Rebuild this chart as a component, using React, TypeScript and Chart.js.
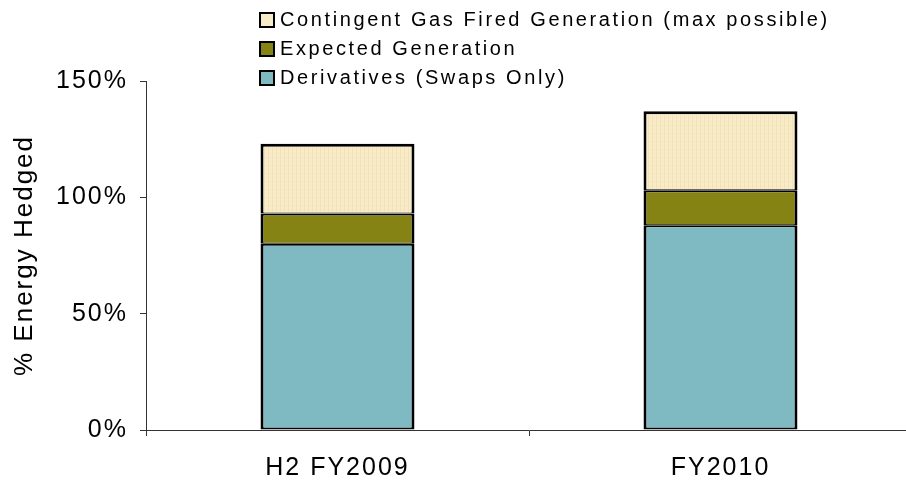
import React, { useEffect, useRef } from "react";
import { Chart, registerables } from "chart.js";

Chart.register(...registerables);

const categories = ["H2 FY2009", "FY2010"];
const derivatives = [80, 88];
const expectedGen = [13, 15];
const contingentGas = [30, 34];
const yTicks = [0, 50, 100, 150];

const seriesNames = [
  "Contingent Gas Fired Generation (max possible)",
  "Expected Generation",
  "Derivatives (Swaps Only)",
];
const colors = {
  deriv: "#7FBAC3",
  expected: "#868315",
  contingent: "#F8ECC8",
  contingentStripe: "#F2E2B8",
};

const FONT = "'Liberation Sans', Arial, sans-serif";
const CANVAS_SPACING = "2px";
const LEGEND_SPACING = "2.6px";

function makePattern(ctx: CanvasRenderingContext2D) {
  const c = document.createElement("canvas");
  c.width = 4;
  c.height = 4;
  const p = c.getContext("2d")!;
  p.fillStyle = colors.contingent;
  p.fillRect(0, 0, 4, 4);
  p.fillStyle = colors.contingentStripe;
  p.fillRect(0, 0, 1, 4);
  p.fillRect(2, 1, 1, 1);
  return ctx.createPattern(c, "repeat") || colors.contingent;
}

export default function App() {
  const ref = useRef<HTMLCanvasElement | null>(null);

  useEffect(() => {
    const canvas = ref.current!;
    const ctx0 = canvas.getContext("2d")!;
    const pattern = makePattern(ctx0);
    const spacingPlugin = {
      id: "spacing",
      beforeUpdate(chart: any) {
        chart.ctx.letterSpacing = CANVAS_SPACING;
      },
      beforeDraw(chart: any) {
        chart.ctx.letterSpacing = CANVAS_SPACING;
      },
    };
    const lowerBorder = { top: 2, left: 3, right: 3, bottom: 2 };
    const upperBorder = { top: 2, left: 3, right: 3, bottom: 1 };
    const topBorder = { top: 3, left: 3, right: 3, bottom: 1 };
    const chart = new Chart(canvas, {
      type: "bar",
      data: {
        labels: categories,
        datasets: [
          {
            label: seriesNames[2],
            data: derivatives,
            backgroundColor: colors.deriv,
            borderColor: "#000",
            borderWidth: lowerBorder,
            borderSkipped: false,
            inflateAmount: 0,
          },
          {
            label: seriesNames[1],
            data: expectedGen,
            backgroundColor: colors.expected,
            borderColor: "#000",
            borderWidth: upperBorder,
            borderSkipped: false,
            inflateAmount: 0,
          },
          {
            label: seriesNames[0],
            data: contingentGas,
            backgroundColor: pattern,
            borderColor: "#000",
            borderWidth: topBorder,
            borderSkipped: false,
            inflateAmount: 0,
          },
        ],
      },
      options: {
        responsive: false,
        animation: false,
        layout: { padding: { top: 81, right: 3, left: 0, bottom: 0 } },
        datasets: { bar: { barPercentage: 0.402, categoryPercentage: 1 } },
        plugins: { legend: { display: false }, tooltip: { enabled: false } },
        scales: {
          x: {
            stacked: true,
            offset: true,
            grid: {
              display: true,
              drawOnChartArea: false,
              drawTicks: true,
              tickLength: 6,
              color: "#333",
              offset: true,
            },
            border: { display: true, color: "#333", width: 1 },
            ticks: {
              color: "#000",
              font: { family: FONT, size: 25 },
              padding: 17,
            },
            afterFit(scale: any) {
              scale.height = 51;
            },
          },
          y: {
            stacked: true,
            min: 0,
            max: 150,
            afterBuildTicks(scale: any) {
              scale.ticks = yTicks.map((v) => ({ value: v }));
            },
            grid: {
              display: true,
              drawOnChartArea: false,
              drawTicks: true,
              tickLength: 6,
              color: "#333",
            },
            border: { display: true, color: "#333", width: 1 },
            ticks: {
              color: "#000",
              font: { family: FONT, size: 25 },
              padding: 12,
              callback: (v: any) => v + "%",
            },
            title: {
              display: true,
              text: "% Energy Hedged",
              color: "#000",
              font: { family: FONT, size: 26 },
              padding: { top: 9, bottom: 0 },
            },
            afterFit(scale: any) {
              scale.width = 146;
            },
          },
        },
      },
      plugins: [spacingPlugin],
    } as any);
    return () => chart.destroy();
  }, []);

  const legendItems = [
    { name: seriesNames[0], color: colors.contingent },
    { name: seriesNames[1], color: colors.expected },
    { name: seriesNames[2], color: colors.deriv },
  ];

  return (
    <div
      style={{
        position: "fixed",
        left: 0,
        top: 0,
        width: 906,
        height: 481,
        overflow: "hidden",
        background: "#fff",
      }}
    >
      <canvas
        ref={ref}
        width={915}
        height={481}
        style={{ display: "block", width: 915, height: 481 }}
      />
      <div
        style={{
          position: "absolute",
          left: 259,
          top: 5,
          fontFamily: FONT,
          fontSize: 20,
          letterSpacing: LEGEND_SPACING,
          color: "#000",
        }}
      >
        {legendItems.map((it) => (
          <div
            key={it.name}
            style={{ display: "flex", alignItems: "center", height: 29, whiteSpace: "nowrap" }}
          >
            <span
              style={{
                display: "inline-block",
                width: 16,
                height: 16,
                boxSizing: "border-box",
                border: "2px solid #000",
                background: it.color,
                marginRight: 5,
              }}
            />
            <span>{it.name}</span>
          </div>
        ))}
      </div>
    </div>
  );
}
